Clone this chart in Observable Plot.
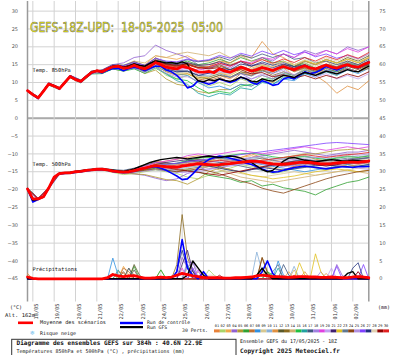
<!DOCTYPE html>
<html><head><meta charset="utf-8">
<script src="https://cdn.jsdelivr.net/npm/d3@7"></script>
<script src="https://cdn.jsdelivr.net/npm/@observablehq/plot@0.6"></script>
<style>
html,body{margin:0;padding:0;background:#fff;}
body{width:395px;height:355px;overflow:hidden;}
svg{display:block;}
</style></head><body>
<div id="chart"></div>
<script>
// ---------- DATA ----------
const dateLabels = ["18/05","19/05","20/05","21/05","22/05","23/05","24/05","25/05","26/05","27/05","28/05","29/05","30/05","31/05","01/06","02/06"];
const yTicks = [-45,-40,-35,-30,-25,-20,-15,-10,-5,0,5,10,15,20,25,30];
const memberColors = ["#e8823a","#a8d468","#f0a848","#9060d0","#b09830","#30a030","#c07030","#3090e0","#d8c890","#88b0d8",
  "#e09040","#5a5a2a","#8a6a20","#d0b070","#20c040","#20a0a0","#405880","#a080e0","#e040e0","#c0a0f0",
  "#402070","#e0c020","#607890","#8b4513","#b090e0","#8040ff","#203080","#e0d0b0","#900000","#e02020"];

// 850 hPa (6-hourly, from 18Z 17/05)
const t850Mean = [7.7,6.6,5.7,7.6, 9.6,9.0,8.3,10.0, 11.7,10.8,10.3,11.6, 12.8,13.3,13.0,13.8, 14.4,14.6,14.0,14.2, 14.8,14.2,13.8,14.5, 15.6,15.0,14.3,14.0, 13.8,14.5,14.2,13.6, 13.0,12.9,13.1,12.8, 13.8,13.2,12.9,13.6, 14.3,13.8,13.2,13.6, 14.2,13.8,13.4,14.0, 14.5,14.0,13.6,14.2, 14.7,14.1,13.8,14.4, 14.9,14.3,14.0,14.6, 15.0,14.5,14.3,15.0, 15.6];
const t850Control = [7.7,6.5,5.5,7.6, 9.7,9.0,8.2,10.1, 11.8,10.8,10.2,11.5, 12.6,13.2,12.7,13.4, 13.9,14.0,13.3,13.9, 14.3,13.9,13.3,14.0, 14.6,14.5,13.5,13.0, 12.0,10.5,8.5,9.0, 10.5,10.0,9.5,10.0, 11.0,10.5,10.0,10.5, 11.5,11.0,10.0,9.5, 10.5,10.0,9.2,9.5, 11.0,11.5,11.0,12.0, 13.0,12.5,12.8,13.5, 14.5,14.0,13.5,14.2, 15.0,14.6,14.2,15.0, 15.8];
const t850Op = [7.7,6.6,5.8,7.7, 9.6,9.1,8.4,10.0, 11.6,10.9,10.4,11.7, 12.9,13.4,13.1,13.9, 14.6,14.8,14.3,14.6, 15.2,14.8,14.6,15.4, 16.0,15.8,15.5,15.6, 15.3,15.8,15.2,12.0, 10.5,10.2,10.8,10.5, 11.0,10.6,10.3,10.8, 11.5,11.0,10.4,10.2, 11.0,10.6,10.4,11.2, 12.0,11.8,11.4,12.2, 12.8,12.4,12.0,12.6, 13.2,12.8,12.4,13.0, 13.6,13.2,13.0,13.8, 14.6];
// 850 hPa perturbations (12-hourly)
const t850Members = [
[7.5,5.5,9.5,8.5,11.5,10,13,13.5,15,14.5,16,14,17,15,14,15,12,11,12,11,13,12,14,13,15,14,16,15,16,14,15,14,16],
[7.8,5.8,9.8,8.2,12,10.5,12.5,12.5,14,13.5,14,13,14.5,12,11,12,10,9,10,9,11,10,12,11,13,12,14,12,13,12,14,13,15],
[7.6,5.6,9.4,8.4,11.6,10.2,13.2,13.4,14.8,14.6,15.5,15,17.5,17,16.5,17.5,16,16,17,15,16,14,15,13,14,12,13,12,14,13,14,13,15],
[7.7,5.7,9.6,8.0,11.5,10,13,13.5,15,15.5,17,17.5,20.5,19,18,17,15,14,15,14,16,15,17,16,18,17,19,18,19,18,20,19,20],
[7.9,5.9,9.7,8.5,11.8,10.4,12.6,12.8,13.8,13.2,14,12.5,13.5,11,9.5,9,7.5,7,8,8,9.5,9,11,10,12,11,13,12,13.5,12.5,14,13,14.5],
[7.6,5.5,9.5,8.3,11.9,10.6,12.9,13.2,14.6,14.4,15.4,14.6,16.4,15.6,15.2,16,15,15.5,16.5,15.5,17,16,17,15.5,16,14.5,15.5,14,15,14,15.5,14.5,16],
[7.7,5.8,9.6,8.4,11.6,10.1,12.7,12.9,14.2,13.6,14.4,13.2,14.8,13,12,12.5,11,10.5,11.5,10,12.5,12,13.5,13,14.5,13,14,13,15,14.5,16,15,17],
[7.5,5.6,9.3,8.1,11.4,10.0,12.5,12.6,13.9,13.5,14.2,13.0,14.6,13.2,12.4,12.0,10.0,8.5,9.0,8.0,9.5,9.0,10.5,9.5,11.0,10.5,12.5,11.5,13.0,12.0,13.5,12.5,14.0],
[7.8,5.7,9.7,8.4,11.8,10.4,13.0,13.3,14.8,14.6,15.6,14.8,16.6,15.2,14.6,15.4,14.6,15.0,16.0,15.0,16.0,14.5,15.0,13.5,14.5,13.5,15.5,14.5,16.0,15.0,16.5,15.5,17.0],
[7.7,5.6,9.5,8.2,11.6,10.3,12.8,12.9,14.2,13.8,14.6,13.4,15.0,13.4,12.8,13.2,12.0,12.0,13.0,12.5,14.0,13.5,15.0,14.0,15.0,13.5,14.5,13.0,14.0,13.0,14.5,14.0,15.5],
[7.6,5.6,9.6,8.3,11.7,10.3,12.9,13.1,14.5,14.1,14.9,14.0,15.8,14.6,14.2,15.0,14.0,14.5,16.0,15.5,17.5,17.0,21.5,18.0,17.0,15.0,14.0,12.0,10.0,7.0,9.0,8.0,10.5],
[7.7,5.7,9.6,8.3,11.7,10.3,12.8,13.0,14.4,14.0,14.8,13.6,15.2,13.8,13.0,13.0,11.5,11.0,12.0,11.5,13.0,12.5,14.0,13.5,15.0,14.5,16.0,15.0,16.5,15.5,17.0,16.0,17.5],
[7.8,5.9,9.8,8.5,11.9,10.6,13.1,13.4,14.7,14.3,15.2,14.3,16.0,15.0,14.6,15.4,14.6,14.2,15.0,13.5,14.5,13.0,13.5,12.0,13.0,12.0,13.5,12.5,14.0,13.0,14.0,13.0,14.0],
[7.7,5.7,9.6,8.3,11.8,10.5,13.0,13.3,14.8,14.8,16.0,15.5,17.5,17.0,18.0,18.5,18.0,17.5,18.5,17.0,17.5,16.0,16.5,15.0,16.0,15.0,16.0,15.0,16.5,15.5,16.5,15.5,17.0],
[7.5,5.4,9.3,8.0,11.3,9.9,12.4,12.5,13.8,13.2,13.8,12.6,14.0,12.5,11.0,10.5,8.5,7.0,7.5,7.0,9.0,9.5,11.0,11.0,12.5,12.0,13.5,13.0,14.5,13.5,15.0,14.0,15.5],
[7.6,5.6,9.4,8.1,11.5,10.1,12.6,12.8,14.0,13.4,14.2,13.0,14.4,12.4,10.5,9.5,7.0,6.0,7.0,6.5,8.5,8.0,10.0,9.5,11.5,11.0,12.5,12.0,13.5,13.0,14.5,14.0,15.0],
[7.9,6.0,9.9,8.6,12.0,10.7,13.2,13.5,15.0,14.8,15.8,14.8,16.8,15.8,15.6,16.4,15.8,16.2,17.2,16.2,17.8,16.8,18.0,17.0,18.0,16.5,17.0,15.5,16.0,15.0,16.0,15.0,16.5],
[7.7,5.7,9.7,8.4,11.8,10.4,12.9,13.1,14.5,14.1,14.9,13.9,15.7,14.5,14.0,14.4,13.0,12.5,13.0,11.5,12.5,11.0,12.0,11.0,12.5,11.5,13.0,12.0,13.5,12.5,14.0,13.0,14.5],
[7.6,5.5,9.5,8.2,11.6,10.2,12.7,12.9,14.3,13.9,14.7,13.8,15.5,14.2,13.6,14.0,13.5,14.0,15.5,14.5,16.0,15.5,17.0,16.5,18.0,17.0,18.5,17.5,19.0,18.0,19.5,18.5,20.0],
[7.8,5.8,9.7,8.4,11.8,10.4,12.9,13.0,14.3,13.8,14.5,13.3,15.0,13.6,13.2,13.6,12.5,12.5,13.5,12.5,14.0,13.0,14.0,12.5,13.5,12.0,13.0,11.5,12.5,11.0,12.0,11.0,12.5],
[7.7,5.6,9.6,8.3,11.7,10.2,12.8,13.1,14.6,14.3,15.3,14.5,16.3,15.3,15.0,15.6,14.8,15.0,15.8,14.8,15.8,14.6,15.4,14.2,15.2,14.0,15.0,13.5,14.5,13.5,15.0,14.0,15.5],
[7.6,5.7,9.5,8.3,11.6,10.3,12.7,12.8,14.1,13.6,14.3,13.1,14.7,13.2,12.4,12.4,11.2,11.4,12.6,12.0,13.6,13.2,14.8,14.4,15.8,15.0,16.2,15.2,16.4,15.4,16.6,15.6,17.0],
[7.8,5.8,9.8,8.5,11.9,10.5,13.1,13.3,14.7,14.2,15.0,14.0,15.8,14.2,13.4,13.2,12.0,11.6,12.4,11.4,12.6,11.8,13.2,12.6,14.0,13.4,14.6,14.0,15.2,14.4,15.6,14.8,16.0],
[7.7,5.7,9.6,8.2,11.6,10.2,12.8,13.0,14.5,14.2,15.2,14.4,16.2,15.0,14.6,15.0,14.2,14.0,14.6,13.6,14.6,13.6,14.4,13.4,14.4,13.2,14.2,13.2,14.4,13.4,14.6,13.6,15.0],
[7.5,5.5,9.4,8.1,11.5,10.0,12.6,12.7,14.0,13.4,14.0,12.8,14.2,12.6,11.6,11.6,10.4,10.0,10.8,10.0,11.6,11.0,12.4,11.6,13.0,12.2,13.6,12.8,14.2,13.4,14.8,14.0,15.4],
[7.9,5.9,9.8,8.5,12.0,10.6,13.1,13.4,14.9,14.7,15.6,14.8,16.8,16.0,15.8,16.6,16.0,16.4,17.6,16.8,18.2,17.4,18.8,17.8,19.0,17.8,18.6,17.2,18.0,16.8,17.6,16.6,18.0],
[7.7,5.7,9.6,8.3,11.7,10.3,12.8,13.0,14.4,14.0,14.7,13.6,15.4,13.8,13.0,13.2,12.0,12.6,14.0,13.6,15.2,14.6,15.8,14.8,15.6,14.4,15.0,13.8,14.6,13.6,14.8,14.0,15.2],
[7.6,5.6,9.5,8.2,11.6,10.2,12.7,12.9,14.2,13.7,14.4,13.3,15.0,13.4,12.6,12.8,11.6,11.8,12.8,12.2,13.8,13.4,15.0,14.4,15.8,15.0,16.4,15.6,17.0,16.0,17.4,16.4,18.0],
[7.8,5.8,9.7,8.4,11.8,10.5,13.0,13.2,14.6,14.3,15.2,14.4,16.2,15.2,14.8,15.2,14.2,13.8,14.2,13.0,13.6,12.4,12.8,11.6,12.2,11.2,12.0,11.0,12.0,11.2,12.4,11.6,13.0],
[7.7,5.7,9.6,8.4,11.8,10.4,12.9,13.1,14.5,14.1,15.0,14.1,16.0,14.8,14.4,15.0,14.0,14.4,15.4,14.6,16.0,15.2,16.4,15.4,16.6,15.6,17.0,16.0,17.4,16.4,17.8,16.8,18.4]];

// 500 hPa (6-hourly)
const t500Mean = [-19.8,-22.6,-22.6,-22.0, -19.5,-16.5,-15.5,-15.3, -15.3,-15.0,-14.9,-14.6, -14.5,-14.3,-14.3,-14.5, -14.8,-15.0,-15.1,-15.0, -14.7,-14.3,-14.0,-13.6, -13.3,-13.4,-13.6,-13.7, -13.8,-13.4,-13.2,-13.0, -12.8,-12.9,-13.0,-13.1, -13.0,-12.8,-12.7,-12.5, -12.3,-12.2,-12.0,-12.1, -12.3,-12.6,-12.8,-12.9, -12.9,-12.8,-12.6,-12.4, -12.3,-12.4,-12.6,-12.8, -12.8,-12.7,-12.5,-12.4, -12.3,-12.3,-12.4,-12.2, -12.0];
const t500Control = [-19.8,-23.5,-22.8,-22.0, -19.6,-16.6,-15.6,-15.4, -15.4,-15.1,-15.0,-14.7, -14.6,-14.4,-14.4,-14.6, -14.9,-15.1,-15.2,-15.1, -14.8,-14.4,-14.0,-13.8, -13.6,-14.0,-14.6,-15.4, -16.2,-17.2,-17.0,-15.6, -14.0,-12.6,-11.6,-11.0, -10.6,-10.8,-11.2,-11.6, -12.0,-12.6,-13.0,-13.6, -14.2,-14.8,-15.1,-15.0, -14.6,-14.2,-13.8,-13.6, -13.4,-13.6,-13.8,-14.0, -14.2,-14.0,-13.8,-13.6, -13.6,-13.8,-13.6,-13.6, -13.5];
const t500Op = [-19.8,-23.0,-22.7,-22.1, -19.5,-16.5,-15.4,-15.3, -15.2,-14.9,-14.8,-14.5, -14.4,-14.2,-14.2,-14.4, -14.6,-14.8,-14.9,-14.6, -14.2,-13.6,-13.0,-12.4, -12.0,-11.6,-11.4,-11.2, -11.0,-11.2,-11.4,-11.2, -11.0,-10.8,-10.6,-10.8, -11.0,-10.8,-10.6,-10.8, -11.2,-11.8,-12.4,-13.4, -14.4,-15.0,-14.6,-13.4, -12.0,-11.2,-11.0,-11.4, -11.8,-12.0,-12.2,-12.0, -11.8,-11.6,-11.8,-12.0, -12.0,-11.8,-11.9,-12.0, -11.9];
// 500 hPa perturbations (12-hourly)
const t500Members = [
[-19.8,-22.8,-19.6,-15.4,-15.2,-14.8,-14.4,-14.2,-14.6,-15.0,-14.2,-13.0,-12.0,-12.5,-13.0,-12.0,-11.5,-12.0,-11.0,-10.5,-11.0,-10.0,-11.0,-12.0,-11.5,-11.0,-10.5,-11.5,-12.0,-11.0,-10.5,-11.0,-10.5],
[-19.7,-22.5,-19.4,-15.6,-15.4,-15.0,-14.6,-14.5,-15.2,-15.8,-15.5,-15.0,-14.5,-15.0,-15.5,-16.5,-17.0,-16.0,-15.0,-14.0,-13.0,-13.5,-14.5,-15.5,-15.0,-14.0,-13.5,-14.0,-14.5,-13.5,-13.0,-13.5,-13.0],
[-19.9,-22.7,-19.6,-15.5,-15.3,-14.9,-14.6,-14.4,-14.9,-15.2,-14.8,-14.0,-13.0,-13.2,-13.0,-12.2,-11.5,-11.8,-12.0,-11.5,-11.0,-10.5,-11.5,-12.5,-13.0,-12.5,-12.0,-12.5,-13.0,-12.5,-12.0,-12.5,-12.0],
[-19.8,-22.6,-19.5,-15.5,-15.2,-14.8,-14.4,-14.2,-14.7,-15.2,-15.6,-16.0,-16.8,-17.5,-17.0,-15.5,-14.5,-13.5,-12.5,-12.0,-11.5,-11.0,-10.5,-10.0,-9.5,-9.0,-9.5,-10.0,-10.5,-10.0,-9.5,-9.5,-9.0],
[-19.8,-22.5,-19.4,-15.4,-15.3,-14.9,-14.5,-14.3,-14.9,-15.4,-15.6,-15.8,-16.5,-17.2,-17.5,-18.5,-17.0,-15.0,-14.0,-13.0,-12.5,-12.0,-12.0,-11.5,-11.0,-10.5,-10.0,-10.0,-9.5,-9.0,-8.8,-8.5,-9.0],
[-19.8,-22.6,-19.5,-15.5,-15.4,-15.0,-14.6,-14.4,-14.9,-15.3,-15.0,-14.5,-14.0,-14.5,-15.0,-14.5,-15.0,-16.0,-16.5,-17.0,-18.0,-17.5,-19.0,-18.5,-19.5,-20.0,-20.5,-21.5,-20.0,-19.0,-18.0,-17.5,-16.5],
[-19.7,-22.4,-19.3,-15.3,-15.1,-14.7,-14.3,-14.1,-14.5,-14.8,-14.2,-13.4,-12.6,-12.8,-13.0,-12.4,-12.0,-12.5,-13.0,-12.5,-12.0,-11.5,-12.0,-12.5,-13.0,-13.5,-13.0,-12.5,-13.0,-13.5,-13.0,-12.5,-12.5],
[-19.9,-22.8,-19.7,-15.7,-15.5,-15.1,-14.7,-14.5,-15.0,-15.4,-15.0,-14.2,-13.5,-13.2,-12.8,-12.0,-11.0,-10.5,-11.0,-11.5,-12.0,-12.5,-13.0,-13.5,-14.0,-14.5,-15.0,-14.5,-14.0,-13.5,-13.0,-13.5,-13.0],
[-19.8,-22.6,-19.5,-15.5,-15.3,-14.9,-14.5,-14.3,-14.8,-15.0,-14.6,-13.8,-13.0,-13.4,-13.8,-13.5,-13.5,-14.0,-14.5,-15.0,-15.5,-16.0,-16.5,-16.0,-15.5,-15.0,-15.5,-16.0,-15.5,-15.0,-14.5,-14.0,-14.0],
[-19.8,-22.7,-19.6,-15.5,-15.3,-14.9,-14.5,-14.3,-14.8,-15.1,-14.7,-14.1,-13.4,-13.8,-14.2,-13.8,-13.4,-13.0,-12.6,-12.2,-11.8,-11.2,-10.8,-11.2,-11.6,-11.0,-10.6,-11.0,-11.4,-11.0,-10.6,-10.8,-10.4],
[-19.8,-22.6,-19.5,-15.5,-15.3,-14.9,-14.5,-14.3,-14.8,-15.1,-14.7,-13.8,-12.8,-12.0,-11.5,-11.0,-10.5,-11.0,-11.5,-12.0,-12.5,-13.0,-13.5,-14.0,-14.5,-13.5,-12.5,-12.0,-12.5,-13.0,-13.5,-13.0,-12.5],
[-19.7,-22.5,-19.4,-15.4,-15.2,-14.8,-14.4,-14.2,-14.6,-14.9,-14.5,-13.9,-13.2,-13.5,-13.8,-13.3,-12.9,-13.2,-13.4,-13.0,-12.6,-12.3,-12.6,-13.0,-13.3,-13.0,-12.6,-12.9,-13.2,-12.8,-12.5,-12.7,-12.3],
[-19.9,-22.7,-19.6,-15.6,-15.4,-15.0,-14.6,-14.4,-14.9,-15.3,-15.0,-14.4,-13.8,-14.2,-14.6,-14.2,-13.8,-13.5,-13.2,-12.8,-12.4,-12.0,-12.3,-12.6,-12.8,-12.5,-12.2,-12.4,-12.6,-12.3,-12.0,-12.2,-11.8],
[-19.8,-22.6,-19.5,-15.5,-15.3,-14.9,-14.5,-14.3,-14.8,-15.1,-14.7,-14.0,-13.3,-13.6,-13.8,-13.2,-12.8,-13.5,-14.5,-15.5,-16.5,-17.0,-17.5,-18.0,-17.5,-17.0,-16.5,-16.0,-15.5,-15.0,-14.5,-15.0,-15.5],
[-19.8,-22.6,-19.5,-15.5,-15.3,-14.9,-14.5,-14.3,-14.8,-15.1,-14.7,-14.0,-13.3,-13.0,-12.6,-11.8,-11.2,-11.0,-10.8,-10.4,-10.0,-9.8,-10.2,-10.8,-11.2,-11.0,-10.8,-11.2,-11.6,-11.2,-10.8,-11.0,-10.6],
[-19.8,-22.6,-19.5,-15.5,-15.3,-14.9,-14.5,-14.3,-14.8,-15.1,-14.7,-14.0,-13.3,-13.6,-13.8,-13.2,-12.8,-13.0,-13.0,-12.7,-12.3,-12.0,-12.3,-12.8,-12.9,-12.6,-12.3,-12.6,-12.8,-12.5,-12.3,-12.4,-12.0],
[-19.6,-22.4,-19.3,-15.3,-15.1,-14.6,-14.2,-14.0,-14.4,-14.6,-14.0,-13.2,-12.4,-12.6,-12.8,-12.0,-11.6,-12.0,-12.4,-12.8,-13.4,-14.0,-14.6,-15.0,-14.6,-14.0,-13.6,-13.2,-12.8,-12.4,-12.0,-11.6,-11.2],
[-20.0,-22.9,-19.8,-15.7,-15.5,-15.1,-14.7,-14.5,-15.0,-15.4,-15.2,-14.8,-14.4,-14.8,-15.2,-15.0,-14.6,-14.2,-13.8,-13.4,-13.0,-12.6,-12.8,-13.2,-13.6,-13.2,-12.8,-13.0,-13.4,-13.0,-12.6,-12.8,-12.4],
[-19.8,-22.6,-19.5,-15.5,-15.3,-14.9,-14.5,-14.3,-14.8,-15.0,-14.4,-13.5,-12.5,-12.0,-11.5,-10.5,-10.0,-10.5,-10.0,-9.5,-9.0,-9.5,-10.0,-9.5,-9.0,-8.5,-8.0,-8.5,-9.0,-8.5,-8.0,-8.5,-8.0],
[-19.8,-22.6,-19.5,-15.5,-15.3,-14.9,-14.5,-14.3,-14.8,-15.1,-14.7,-14.0,-13.6,-14.2,-14.8,-15.4,-15.0,-14.4,-13.8,-13.2,-12.8,-12.4,-12.0,-11.6,-11.2,-11.6,-12.0,-12.4,-12.8,-13.2,-13.6,-14.0,-14.4],
[-19.8,-22.6,-19.5,-15.5,-15.3,-14.9,-14.5,-14.3,-14.8,-15.1,-14.7,-14.0,-13.0,-12.4,-12.0,-11.6,-12.0,-12.8,-13.6,-14.4,-15.0,-14.4,-13.8,-13.2,-12.6,-12.0,-11.6,-12.0,-12.4,-12.0,-11.6,-11.4,-11.0],
[-19.8,-22.6,-19.5,-15.5,-15.3,-14.9,-14.5,-14.3,-14.8,-15.1,-14.7,-14.0,-13.3,-13.6,-13.8,-13.2,-12.8,-13.2,-13.8,-14.4,-15.2,-16.0,-16.4,-17.0,-16.6,-16.2,-15.6,-15.0,-14.6,-14.2,-14.6,-15.0,-14.6],
[-19.8,-22.6,-19.5,-15.5,-15.3,-14.9,-14.5,-14.3,-14.8,-15.1,-14.7,-14.0,-13.3,-13.0,-12.8,-12.4,-12.0,-11.6,-11.2,-11.6,-12.0,-11.6,-11.2,-11.8,-12.4,-12.0,-11.6,-11.8,-12.0,-11.6,-11.2,-11.4,-11.0],
[-19.8,-22.6,-19.5,-15.5,-15.3,-14.9,-14.5,-14.3,-14.8,-15.2,-15.0,-14.6,-14.2,-14.6,-15.0,-14.6,-14.2,-14.8,-15.6,-16.6,-17.6,-18.4,-19.6,-20.4,-21.0,-20.0,-19.0,-18.0,-17.0,-16.2,-15.6,-15.0,-14.6],
[-19.8,-22.6,-19.5,-15.5,-15.3,-14.9,-14.5,-14.3,-14.8,-15.1,-14.7,-14.0,-13.3,-13.6,-13.8,-13.2,-12.8,-12.4,-12.0,-11.6,-11.2,-11.6,-12.0,-12.4,-12.0,-11.6,-11.2,-11.0,-10.8,-10.4,-10.0,-10.4,-10.0],
[-19.8,-22.6,-19.5,-15.5,-15.3,-14.9,-14.5,-14.3,-14.8,-15.1,-14.7,-14.0,-13.3,-13.0,-12.6,-12.2,-11.8,-11.4,-11.0,-10.6,-10.2,-9.8,-9.4,-9.0,-8.6,-8.2,-7.8,-7.4,-7.0,-6.8,-7.0,-7.2,-7.4],
[-19.8,-22.6,-19.5,-15.5,-15.3,-14.9,-14.5,-14.3,-14.8,-15.1,-14.7,-14.0,-13.3,-13.6,-13.8,-13.2,-12.8,-13.4,-14.0,-14.6,-15.0,-14.4,-13.8,-14.2,-14.6,-14.2,-13.8,-13.4,-13.0,-13.4,-13.8,-13.4,-13.0],
[-19.8,-22.6,-19.5,-15.5,-15.3,-14.9,-14.5,-14.3,-14.8,-15.1,-14.7,-14.0,-13.3,-13.2,-13.0,-12.6,-12.4,-12.6,-12.8,-12.4,-12.0,-11.8,-12.0,-12.4,-12.6,-12.4,-12.0,-12.2,-12.4,-12.0,-11.8,-11.8,-11.4],
[-19.8,-22.6,-19.5,-15.5,-15.3,-14.9,-14.5,-14.3,-14.8,-15.1,-14.7,-14.0,-13.3,-13.8,-14.4,-14.8,-15.2,-15.6,-16.0,-15.4,-14.8,-14.2,-13.6,-13.0,-12.6,-12.2,-12.6,-13.0,-13.4,-13.0,-12.6,-12.4,-12.2],
[-19.8,-22.6,-19.5,-15.5,-15.3,-14.9,-14.5,-14.3,-14.8,-15.1,-14.7,-14.0,-13.3,-13.4,-13.2,-12.8,-12.4,-12.2,-11.8,-12.2,-12.6,-12.2,-11.8,-11.4,-11.0,-10.6,-10.2,-10.6,-11.0,-10.6,-10.2,-10.0,-9.6]];

// Precipitation (mm, 6-hourly)
const precipMean = [0.5,0.1,0,0, 0,0,0,0, 0,0,0,0, 0,0,0,0.3, 1.2,0.8,0.6,0.8, 0.9,0.5,0.2,0.2, 0.3,0.5,0.3,0.5, 1.0,1.5,1.2,0.8, 0.6,0.4,0.3,0.3, 0.3,0.2,0.2,0.3, 0.3,0.4,0.5,0.8, 1.0,0.8,0.6,0.6, 0.5,0.4,0.5,0.6, 0.6,0.5,0.5,0.4, 0.4,0.5,0.4,0.3, 0.3,0.5,0.6,0.5, 0.3];
// [hour, mm] events, zero elsewhere
const precipControl = [[168,2],[174,11],[180,3],[186,1],[198,2],[264,2],[270,5],[276,1.5]];
const precipOp = [[180,1],[186,5],[192,3],[198,1],[258,1],[264,3],[270,1],[360,1.5],[366,2]];
const precipMembers = [
[[0,1.5],[102,2],[108,1.5]], [[0,1],[150,2.5],[204,2.5],[210,1]], [[108,3.5],[114,1],[294,2]],
[[174,6],[180,3],[186,5],[348,4],[354,1]], [[114,3],[120,1]], [[96,1.5],[120,3.5],[150,2.5],[270,2]],
[[108,3],[114,2],[264,3]], [[96,5.8],[102,1],[282,5],[288,1]], [[180,3],[186,2]],
[[258,7.5],[264,2],[300,3.5]], [[120,2.5],[312,2],[336,1.5]], [[120,4],[126,1]],
[[168,4],[174,18],[180,6],[186,2],[264,6],[270,2]], [[192,2],[300,2.5]], [[270,2],[276,1]],
[[102,2.5],[180,4],[282,3]], [[114,3],[186,2.5],[288,4],[294,1]], [[180,5],[186,3],[330,2]],
[[174,3],[192,2.5]], [[186,4.5],[192,2],[342,3]], [[174,4],[180,8],[186,2]],
[[306,4.5],[312,1],[324,7],[330,2]], [[120,2.5],[276,2],[282,4]], [[108,2],[264,5.9],[270,1.5]],
[[180,3.5],[186,5],[372,2]], [[186,3],[348,3.5],[378,4]], [[168,2],[174,8],[180,3],[366,3],[372,4.5]],
[[204,1],[210,1]], [[216,1],[372,2]], [[300,1]]];

// ---------- BUILD ----------
const H = 384;
const hours6 = d3.range(0, H + 1, 6);
const hours12 = d3.range(0, H + 1, 12);
const dayHours = d3.range(6, H, 24);
const series = (arr, hrs) => arr.map((v, i) => ({h: hrs[i], v}));
const memberRows = mat => mat.flatMap((arr, m) => arr.map((v, i) => ({m: m + 1, h: hours12[i], v})));
const precipY = mm => mm - 45; // precipitation uses the right-hand scale, 0 mm at the -45 line
const expand = ev => hours6.map(h => { const e = ev.find(d => d[0] === h); return {h, v: precipY(e ? e[1] : 0)}; });
const precipMemberRows = precipMembers.flatMap((ev, m) => expand(ev).map(d => ({...d, m: m + 1})));
const FONT = "DejaVu Sans Mono";

const chart = Plot.plot({
  width: 395, height: 355,
  marginLeft: 27, marginRight: 26.7, marginTop: 1, marginBottom: 53.5,
  x: {domain: [0, H], axis: null},
  y: {domain: [-51.5, 32.7], label: null},
  color: {domain: d3.range(1, 31), range: memberColors},
  style: {background: "#fff", overflow: "visible"},
  marks: [
    Plot.ruleY(yTicks, {stroke: "#d2d2d2", strokeWidth: 1}),
    Plot.ruleY([0], {stroke: "#aaaaaa", strokeWidth: 2}),
    Plot.ruleX(dayHours, {stroke: "#d2d2d2", strokeWidth: 1}),
    Plot.ruleX([0, H], {stroke: "#9a9a9a", strokeWidth: 1.5}),
    Plot.axisY(yTicks, {anchor: "left", tickSize: 0, tickPadding: 9.5, fontSize: 5, fontFamily: "DejaVu Sans", color: "#555", label: null}),
    Plot.axisY(yTicks, {anchor: "right", tickSize: 0, tickPadding: 10.5, fontSize: 5, fontFamily: "DejaVu Sans", color: "#555", label: null, tickFormat: d => d + 45}),
    Plot.text(dateLabels, {x: (d, i) => dayHours[i], frameAnchor: "bottom", text: d => d, rotate: -90, textAnchor: "end", lineAnchor: "middle", dx: 3.6, dy: 1.5, fontSize: 5.3, fontFamily: FONT, fill: "#333"}),
    Plot.text(["Temp. 850hPa"], {frameAnchor: "top-left", dx: 5, dy: 69, lineAnchor: "middle", fontSize: 5.3, fontFamily: FONT, fill: "#111"}),
    Plot.text(["Temp. 500hPa"], {frameAnchor: "top-left", dx: 5, dy: 163, lineAnchor: "middle", fontSize: 5.3, fontFamily: FONT, fill: "#111"}),
    Plot.text(["Précipitations"], {frameAnchor: "top-left", dx: 5, dy: 267.5, lineAnchor: "middle", fontSize: 5.3, fontFamily: FONT, fill: "#111"}),
    // perturbations
    Plot.line(memberRows(t850Members), {x: "h", y: "v", z: "m", stroke: "m", strokeWidth: 0.8}),
    Plot.line(memberRows(t500Members), {x: "h", y: "v", z: "m", stroke: "m", strokeWidth: 0.8}),
    Plot.line(precipMemberRows, {x: "h", y: "v", z: "m", stroke: "m", strokeWidth: 0.8}),
    // control run
    Plot.line(series(t850Control, hours6), {x: "h", y: "v", stroke: "#0000ff", strokeWidth: 1.6}),
    Plot.line(series(t500Control, hours6), {x: "h", y: "v", stroke: "#0000ff", strokeWidth: 1.6}),
    Plot.line(expand(precipControl), {x: "h", y: "v", stroke: "#0000ff", strokeWidth: 1.6}),
    // GFS run
    Plot.line(series(t850Op, hours6), {x: "h", y: "v", stroke: "#000", strokeWidth: 1.4}),
    Plot.line(series(t500Op, hours6), {x: "h", y: "v", stroke: "#000", strokeWidth: 1.4}),
    Plot.line(expand(precipOp), {x: "h", y: "v", stroke: "#000", strokeWidth: 1.4}),
    // ensemble mean
    Plot.line(series(t850Mean, hours6), {x: "h", y: "v", stroke: "#ff0000", strokeWidth: 2.8}),
    Plot.line(series(t500Mean, hours6), {x: "h", y: "v", stroke: "#ff0000", strokeWidth: 2.8}),
    Plot.line(series(precipMean.map(precipY), hours6), {x: "h", y: "v", stroke: "#ff0000", strokeWidth: 2.8})
  ]
});
document.getElementById("chart").appendChild(chart);

// ---------- TITLE & LEGEND (text kept as real text) ----------
const svg = d3.select(chart);
function label(x, y, str, o = {}) {
  const t = svg.append("text").attr("x", x).attr("y", y).text(str)
    .attr("font-family", o.family || FONT).attr("font-size", o.size || 5)
    .attr("font-weight", o.weight || "normal").attr("fill", o.fill || "#111")
    .attr("dominant-baseline", o.baseline || "middle").attr("text-anchor", o.anchor || "start")
    .style("white-space", "pre");
  if (o.len) t.attr("textLength", o.len).attr("lengthAdjust", "spacingAndGlyphs");
  if (o.stroke) t.attr("stroke", o.stroke).attr("stroke-width", o.sw || 0.5);
  return t;
}
label(30, 31.7, "GEFS-18Z-UPD:  18-05-2025  05:00", {family: "DejaVu Sans", size: 13.5, fill: "#f0f000", stroke: "#6a6a6a", sw: 0.5, len: 193, baseline: "auto"});

label(10, 307.7, "(°C)", {size: 5});
label(5, 316, "Alt. 162m", {size: 5, len: 30});
label(378, 307.7, "(mm)", {size: 5});

svg.append("rect").attr("x", 18).attr("y", 321.5).attr("width", 15).attr("height", 2.6).attr("fill", "#ff0000");
label(40, 323, "Moyenne des scénarios", {size: 5.2, len: 66});
svg.append("rect").attr("x", 120).attr("y", 321.8).attr("width", 23).attr("height", 2.4).attr("fill", "#0000ff");
svg.append("rect").attr("x", 120).attr("y", 326).attr("width", 23).attr("height", 2.2).attr("fill", "#000");
label(147, 322.8, "Run de contrôle", {size: 4.8, len: 43});
label(147, 327.3, "Run GFS", {size: 4.8});
label(182, 330.7, "30 Perts.", {size: 4.8});
const bw = 175 / 30;
memberColors.forEach((c, i) => {
  svg.append("rect").attr("x", 214 + i * bw).attr("y", 329.4).attr("width", bw).attr("height", 3).attr("fill", c);
  label(214 + i * bw + bw / 2, 325.8, String(i + 1).padStart(2, "0"), {size: 3.6, anchor: "middle"});
});
label(32.3, 333.6, "❄", {family: "DejaVu Sans", size: 6, fill: "#7cc4ee", anchor: "middle"});
label(40, 334, "Risque neige", {size: 5});

svg.append("rect").attr("x", 11.7).attr("y", 339.3).attr("width", 224.3).attr("height", 20).attr("fill", "none").attr("stroke", "#333").attr("stroke-width", 1);
label(16.5, 343.8, "Diagramme des ensembles GEFS sur 384h : 40.6N 22.9E", {size: 6.2, weight: "bold", len: 186});
label(16.5, 351.7, "Températures 850hPa et 500hPa (°C) , précipitations (mm)", {size: 5, len: 168});
label(240, 342, "Ensemble GEFS du 17/05/2025 - 18Z", {size: 5, len: 97});
label(240, 351.6, "Copyright 2025 Meteociel.fr", {size: 6.2, weight: "bold", len: 100});
</script>
</body></html>
